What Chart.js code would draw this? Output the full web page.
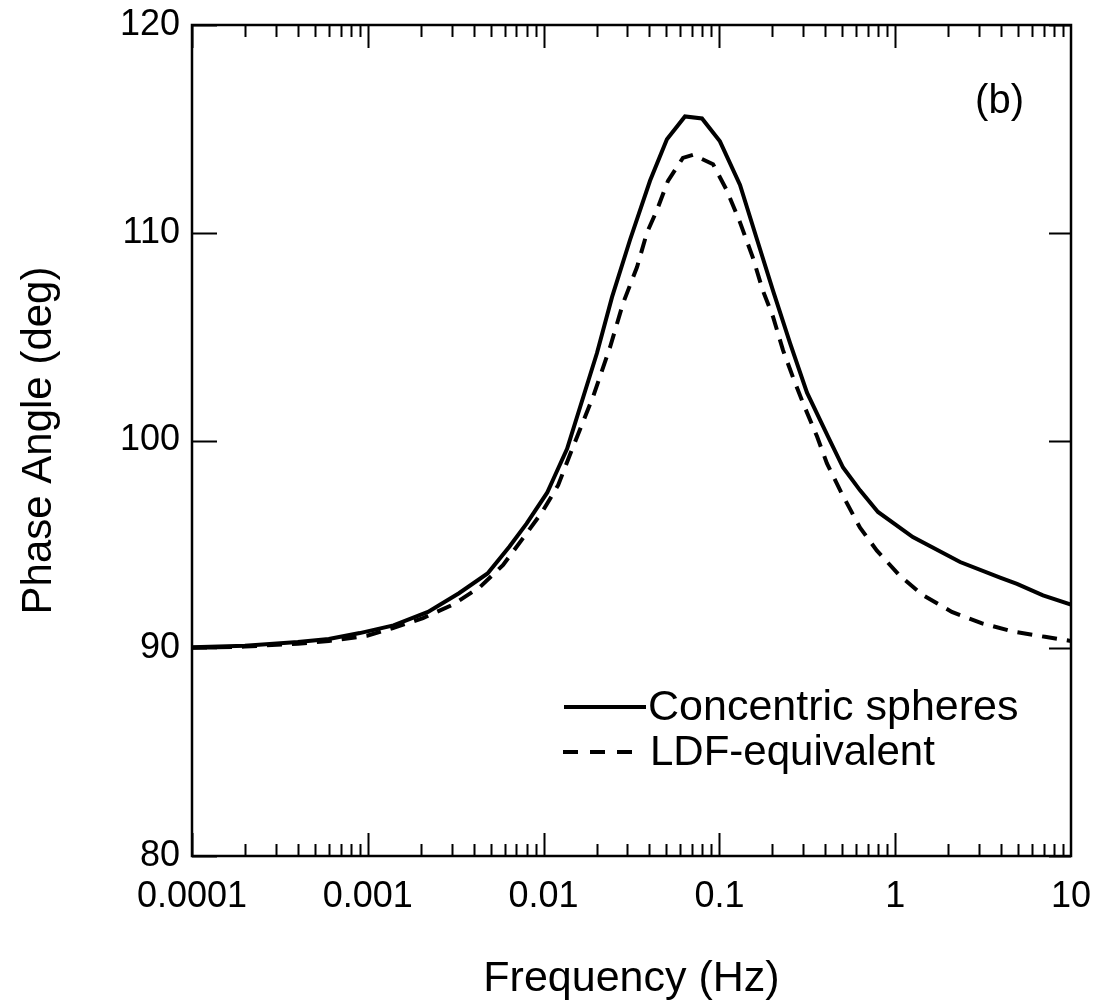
<!DOCTYPE html>
<html lang="en">
<head>
    <meta charset="UTF-8">
    <title>Phase Angle vs Frequency</title>
    <script src="https://cdn.jsdelivr.net/npm/chart.js"></script>
    <style>
        html, body { margin: 0; padding: 0; background: #fff; }
        #wrap { width: 1097px; height: 1001px; }
    </style>
</head>
<body>
    <div id="wrap"><canvas id="phaseChart"></canvas></div>

    <script>
        // data
        const solidFreq  = [0.0001, 0.0002, 0.0004, 0.0006, 0.0009, 0.0014, 0.0022, 0.0033, 0.0048, 0.0064, 0.008, 0.0105, 0.0113, 0.0136, 0.0201, 0.0245, 0.031, 0.0403, 0.0503, 0.0637, 0.0796, 0.1007, 0.131, 0.164, 0.202, 0.252, 0.315, 0.409, 0.505, 0.631, 0.798, 1.26, 2.34, 3.95, 4.93, 6.93, 10];
        const solidPhase = [90.05, 90.12, 90.3, 90.45, 90.73, 91.1, 91.75, 92.65, 93.6, 94.9, 96.0, 97.5, 98.1, 99.6, 104.2, 106.9, 109.65, 112.5, 114.5, 115.6, 115.5, 114.4, 112.3, 109.65, 107.2, 104.7, 102.3, 100.3, 98.7, 97.6, 96.56, 95.35, 94.15, 93.4, 93.1, 92.55, 92.1];

        const ldfFreq  = [0.0001, 0.0002, 0.0004, 0.0006, 0.00099, 0.00139, 0.00206, 0.00305, 0.00435, 0.00587, 0.00764, 0.0098, 0.0121, 0.0141, 0.0191, 0.0239, 0.0283, 0.034, 0.0387, 0.0442, 0.051, 0.062, 0.0708, 0.092, 0.11, 0.131, 0.155, 0.177, 0.202, 0.23, 0.262, 0.299, 0.359, 0.409, 0.5, 0.631, 0.787, 1.06, 1.44, 2.1, 3.12, 4.68, 7.11, 10];
        const ldfPhase = [90.02, 90.08, 90.22, 90.35, 90.6, 90.97, 91.45, 92.1, 92.95, 94.0, 95.3, 96.55, 97.85, 99.3, 102.1, 104.5, 106.6, 108.35, 110.0, 111.1, 112.5, 113.6, 113.75, 113.3, 112.05, 110.5, 108.8, 107.2, 105.95, 104.35, 103.05, 101.8, 100.2, 98.9, 97.4, 95.8, 94.7, 93.5, 92.55, 91.75, 91.2, 90.8, 90.55, 90.35];

        const seriesNames = ['Concentric spheres', 'LDF-equivalent'];
        const xTickValues = [0.0001, 0.001, 0.01, 0.1, 1, 10];
        const xTickLabels = ['0.0001', '0.001', '0.01', '0.1', '1', '10'];
        const yTickValues = [80, 90, 100, 110, 120];

        const FONT = '"Liberation Sans", Arial, Helvetica, sans-serif';

        function toPoints(xs, ys) {
            return xs.map((x, i) => ({ x: x, y: ys[i] }));
        }

        // frame, inward ticks, panel tag and legend
        const framePlugin = {
            id: 'frame',
            afterDraw(chart) {
                const ctx = chart.ctx;
                const area = chart.chartArea;
                const xs = chart.scales.x;
                const ys = chart.scales.y;
                ctx.save();
                ctx.strokeStyle = '#000';
                ctx.lineWidth = 2.5;
                ctx.strokeRect(area.left, area.top, area.right - area.left, area.bottom - area.top);

                ctx.lineWidth = 2;
                ctx.beginPath();
                // log ticks, top and bottom
                for (let d = -4; d < 1; d++) {
                    for (let m = 1; m <= 9; m++) {
                        const v = m * Math.pow(10, d);
                        const px = Math.round(xs.getPixelForValue(v)) + 0.5;
                        const len = m === 1 ? 23 : 12;
                        ctx.moveTo(px, area.bottom);
                        ctx.lineTo(px, area.bottom - len);
                        ctx.moveTo(px, area.top);
                        ctx.lineTo(px, area.top + len);
                    }
                }
                // y ticks, left and right
                yTickValues.forEach(v => {
                    const py = Math.round(ys.getPixelForValue(v)) + 0.5;
                    ctx.moveTo(area.left, py);
                    ctx.lineTo(area.left + 25, py);
                    ctx.moveTo(area.right, py);
                    ctx.lineTo(area.right - 22, py);
                });
                ctx.stroke();

                // (b)
                ctx.fillStyle = '#000';
                ctx.font = '40px ' + FONT;
                ctx.textAlign = 'right';
                ctx.textBaseline = 'middle';
                ctx.fillText('(b)', 1024, 102);

                // legend
                ctx.textAlign = 'left';
                ctx.lineWidth = 4;
                ctx.beginPath();
                ctx.moveTo(564, 707);
                ctx.lineTo(646, 707);
                ctx.stroke();
                ctx.setLineDash([15, 12]);
                ctx.beginPath();
                ctx.moveTo(563, 752);
                ctx.lineTo(638, 752);
                ctx.stroke();
                ctx.setLineDash([]);
                ctx.font = '43px ' + FONT;
                ctx.fillText(seriesNames[0], 648, 708);
                ctx.font = '42px ' + FONT;
                ctx.fillText(seriesNames[1], 650, 753);
                ctx.restore();
            }
        };

        function initChart() {
            const ctx = document.getElementById('phaseChart').getContext('2d');
            new Chart(ctx, {
                type: 'line',
                data: {
                    datasets: [{
                        label: seriesNames[0],
                        data: toPoints(solidFreq, solidPhase),
                        borderColor: '#000',
                        borderWidth: 4,
                        pointRadius: 0,
                        tension: 0,
                        fill: false
                    }, {
                        label: seriesNames[1],
                        data: toPoints(ldfFreq, ldfPhase),
                        borderColor: '#000',
                        borderWidth: 4,
                        borderDash: [15, 10],
                        pointRadius: 0,
                        tension: 0,
                        fill: false
                    }]
                },
                options: {
                    responsive: true,
                    maintainAspectRatio: false,
                    animation: false,
                    layout: { padding: { top: 25, right: 26, left: 0, bottom: 0 } },
                    plugins: {
                        legend: { display: false },
                        tooltip: { enabled: false }
                    },
                    scales: {
                        x: {
                            type: 'logarithmic',
                            min: 0.0001,
                            max: 10,
                            grid: { display: false, drawTicks: false },
                            border: { display: false },
                            afterBuildTicks(scale) {
                                scale.ticks = xTickValues.map(v => ({ value: v }));
                            },
                            afterFit(scale) {
                                scale.height = 145;
                                scale.paddingLeft = 0;
                                scale.paddingRight = 0;
                            },
                            ticks: {
                                autoSkip: false,
                                maxRotation: 0,
                                padding: 19,
                                color: '#000',
                                font: { family: FONT, size: 36 },
                                callback: (v) => {
                                    const i = xTickValues.indexOf(v);
                                    return i >= 0 ? xTickLabels[i] : '';
                                }
                            },
                            title: {
                                display: true,
                                text: 'Frequency (Hz)',
                                color: '#000',
                                font: { family: FONT, size: 43 },
                                padding: { top: 0, bottom: -4 }
                            }
                        },
                        y: {
                            min: 80,
                            max: 120,
                            grid: { display: false, drawTicks: false },
                            border: { display: false },
                            afterBuildTicks(scale) {
                                scale.ticks = yTickValues.map(v => ({ value: v }));
                            },
                            afterFit(scale) {
                                scale.width = 192;
                                scale.paddingTop = 0;
                                scale.paddingBottom = 0;
                            },
                            ticks: {
                                padding: 12,
                                color: '#000',
                                font: { family: FONT, size: 36 }
                            },
                            title: {
                                display: true,
                                text: 'Phase Angle (deg)',
                                color: '#000',
                                font: { family: FONT, size: 42 },
                                padding: { top: 14, bottom: 0 }
                            }
                        }
                    }
                },
                plugins: [framePlugin]
            });
        }

        document.addEventListener('DOMContentLoaded', initChart);
    </script>
</body>
</html>
